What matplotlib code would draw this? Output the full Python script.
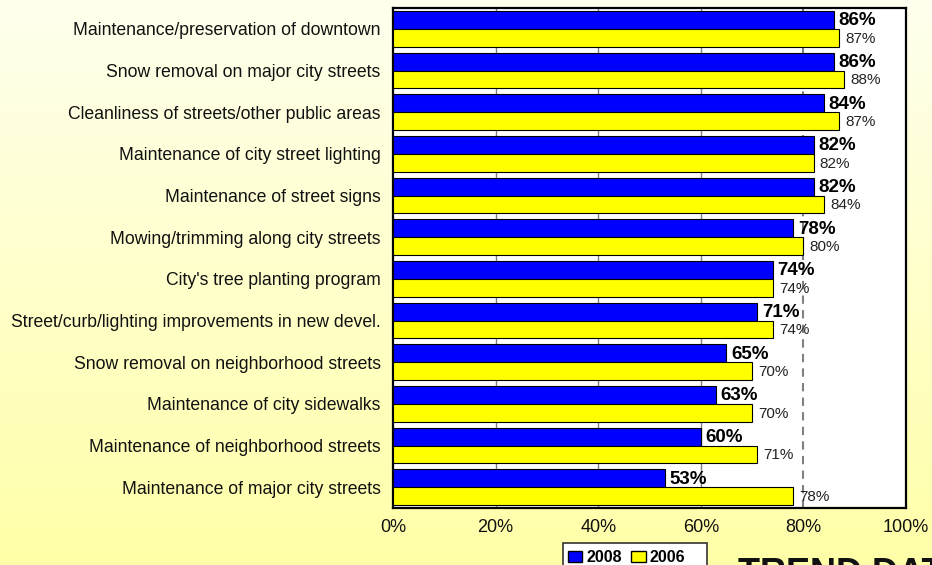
import matplotlib.pyplot as plt
import numpy as np
from matplotlib.patches import Patch, Rectangle

plt.rcParams['font.family'] = ['Liberation Sans', 'DejaVu Sans']

# data (top to bottom)
categories = [
    'Maintenance/preservation of downtown',
    'Snow removal on major city streets',
    'Cleanliness of streets/other public areas',
    'Maintenance of city street lighting',
    'Maintenance of street signs',
    'Mowing/trimming along city streets',
    "City's tree planting program",
    'Street/curb/lighting improvements in new devel.',
    'Snow removal on neighborhood streets',
    'Maintenance of city sidewalks',
    'Maintenance of neighborhood streets',
    'Maintenance of major city streets',
]
values_2008 = [86, 86, 84, 82, 82, 78, 74, 71, 65, 63, 60, 53]
values_2006 = [87, 88, 87, 82, 84, 80, 74, 74, 70, 70, 71, 78]
x_ticks = [0, 20, 40, 60, 80, 100]

W, H = 932, 565
fig = plt.figure(figsize=(W / 100, H / 100), dpi=100)

# pale yellow gradient background
bg = fig.add_axes([0, 0, 1, 1], zorder=-10)
t = np.linspace(0, 1, 256)[:, None]
top = np.array([255, 255, 238]) / 255
bot = np.array([255, 255, 168]) / 255
grad = top + (bot - top) * t[..., None] * np.ones((1, 2, 1))
bg.imshow(grad, aspect='auto', extent=[0, 1, 0, 1])
bg.axis('off')

ax = fig.add_axes([393 / W, 1 - 508 / H, 513 / W, 500 / H])
ax.set_facecolor('white')

y = np.arange(len(categories))
h = 0.43
ax.barh(y - h / 2, values_2008, height=h, color='#0000ff', edgecolor='black', linewidth=0.8, zorder=3)
ax.barh(y + h / 2, values_2006, height=h, color='#ffff00', edgecolor='black', linewidth=0.8, zorder=3)

for i, (a, b) in enumerate(zip(values_2008, values_2006)):
    ax.text(a + 0.9, i - h / 2 + 0.02, f'{a}%', fontsize=13.5, fontweight='bold',
            va='center', ha='left', zorder=4)
    ax.text(b + 1.2, i + h / 2 + 0.02, f'{b}%', fontsize=11, color='#222222',
            va='center', ha='left', zorder=4)

for g in [20, 40, 60]:
    ax.axvline(g, color='#808080', lw=1, zorder=1)
ax.axvline(80, color='#808080', lw=1.5, ls=(0, (4, 3)), zorder=1)

ax.set_xlim(0, 100)
ax.set_ylim(len(categories) - 0.5, -0.5)
ax.set_yticks(y)
ax.set_yticklabels(categories, fontsize=12.7, color='#111111')
ax.set_xticks(x_ticks)
ax.set_xticklabels([f'{v}%' for v in x_ticks], fontsize=13, color='#111111')
ax.tick_params(axis='both', length=0)
ax.tick_params(axis='y', pad=9)
ax.tick_params(axis='x', pad=8)
for s in ax.spines.values():
    s.set_linewidth(1.6)
    s.set_color('black')

# legend box (runs off the bottom edge like the original)
fig.patches.append(Rectangle((563 / W, -0.05), (707 - 563) / W, 0.05 + 1 - 543 / H,
                             transform=fig.transFigure, facecolor='white',
                             edgecolor='#333333', lw=1.2, zorder=1))
handles = [Patch(facecolor='#0000ff', edgecolor='black', label='2008'),
           Patch(facecolor='#ffff00', edgecolor='black', label='2006')]
leg = fig.legend(handles=handles, loc='upper left', bbox_to_anchor=(568 / W, 1 - 550 / H),
                 ncol=2, frameon=False, prop={'weight': 'bold', 'size': 11.5},
                 handlelength=0.9, handleheight=0.65, columnspacing=0.6,
                 handletextpad=0.25, borderpad=0, borderaxespad=0)

fig.text(738 / W, 1 - 557 / H, 'TREND DATA', fontsize=26, fontweight='bold',
         va='top', ha='left', color='#111111')

fig.savefig('out.png', dpi=100)
